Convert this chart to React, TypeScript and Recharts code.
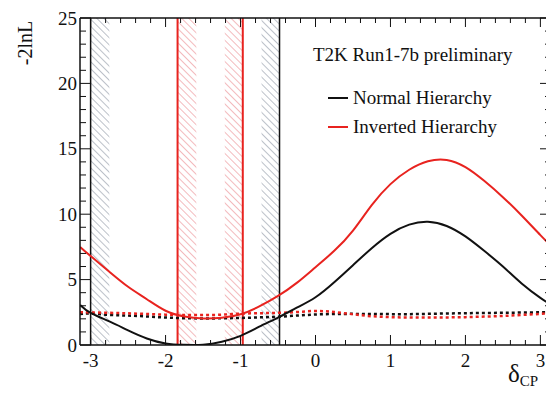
import React from 'react';
import {
  ComposedChart,
  Line,
  XAxis,
  YAxis,
  ReferenceArea,
  ReferenceLine,
} from 'recharts';

// delta_CP sample points
const deltaCP = [
  -3.14, -3, -2.75, -2.5, -2.25, -2, -1.75, -1.5, -1.25, -1, -0.75, -0.5, -0.25,
  0, 0.25, 0.5, 0.75, 1, 1.25, 1.5, 1.75, 2, 2.25, 2.5, 2.75, 3, 3.14,
];

// -2lnL, best fit
const normalHierarchy = [
  3.06, 2.45, 1.8, 1.12, 0.5, 0.12, 0.01, 0.02, 0.25, 0.7, 1.4, 2.1, 2.85,
  3.65, 4.8, 6.1, 7.4, 8.5, 9.2, 9.42, 9.1, 8.3, 7.2, 6.0, 4.7, 3.6, 3.1,
];
const invertedHierarchy = [
  7.5, 6.8, 5.6, 4.45, 3.5, 2.62, 2.18, 2.03, 2.08, 2.35, 2.95, 3.75, 4.75,
  5.95, 7.2, 8.75, 10.7, 12.3, 13.4, 14.05, 14.15, 13.6, 12.55, 11.3, 9.9, 8.4, 7.6,
];

// critical values (dashed)
const normalCritical = [
  2.37, 2.4, 2.3, 2.25, 2.18, 2.1, 2.05, 2.03, 2.04, 2.07, 2.11, 2.16, 2.25,
  2.33, 2.37, 2.38, 2.37, 2.36, 2.36, 2.38, 2.41, 2.43, 2.45, 2.46, 2.48, 2.5, 2.52,
];
const invertedCritical = [
  2.5, 2.49, 2.46, 2.42, 2.37, 2.32, 2.29, 2.29, 2.32, 2.4, 2.43, 2.46, 2.52,
  2.6, 2.52, 2.35, 2.2, 2.13, 2.1, 2.1, 2.11, 2.13, 2.17, 2.22, 2.3, 2.38, 2.45,
];

// 90% intervals
const nhInterval = [-3.0, -0.48];
const ihInterval = [-1.84, -0.97];
const nhHatch = [[-3.0, -2.75], [-0.72, -0.48]];
const ihHatch = [[-1.84, -1.59], [-1.21, -0.97]];

const yMajor = [0, 5, 10, 15, 20, 25];
const xMajor = [-3, -2, -1, 0, 1, 2, 3];

const xTicks: number[] = [];
for (let i = -15; i <= 15; i++) xTicks.push(Math.round(i * 2) / 10);
const yTicks: number[] = [];
for (let i = 0; i <= 25; i++) yTicks.push(i);

const rows = deltaCP.map((d, i) => ({
  d,
  nh: normalHierarchy[i],
  ih: invertedHierarchy[i],
  nhc: normalCritical[i],
  ihc: invertedCritical[i],
}));

const RED = '#e8231f';
const INK = '#111';
const FONT = '"Times New Roman", "Liberation Serif", Tinos, "DejaVu Serif", serif';

const isMajorX = (v: number) => xMajor.some((m) => Math.abs(m - v) < 1e-6);
const isMajorY = (v: number) => yMajor.includes(v);

const BottomTick = ({ x, y, payload }: any) => {
  const major = isMajorX(payload.value);
  return (
    <g>
      <line x1={x} y1={y} x2={x} y2={y - (major ? 10 : 5)} stroke={INK} />
      {major && (
        <text x={x} y={y + 22} textAnchor="middle" fontSize={19} style={{ fontFamily: FONT }} fill={INK}>
          {String(Math.round(payload.value))}
        </text>
      )}
    </g>
  );
};

const TopTick = ({ x, y, payload }: any) => {
  const major = isMajorX(payload.value);
  return <line x1={x} y1={y} x2={x} y2={y + (major ? 9 : 5)} stroke={INK} />;
};

const LeftTick = ({ x, y, payload }: any) => {
  const major = isMajorY(payload.value);
  return (
    <g>
      <line x1={x} y1={y} x2={x + (major ? 11 : 6)} y2={y} stroke={INK} />
      {major && (
        <text x={x - 3} y={y + 6.5} textAnchor="end" fontSize={19} style={{ fontFamily: FONT }} fill={INK}>
          {payload.value}
        </text>
      )}
    </g>
  );
};

const RightTick = ({ x, y, payload }: any) => {
  const major = isMajorY(payload.value);
  return <line x1={x} y1={y} x2={x - (major ? 11 : 6)} y2={y} stroke={INK} />;
};

const textBox: React.CSSProperties = {
  position: 'absolute',
  fontSize: 19,
  lineHeight: '22px',
  color: INK,
  whiteSpace: 'nowrap',
  fontFamily: FONT,
};

export default function App() {
  return (
    <div
      style={{
        position: 'absolute',
        left: 0,
        top: 0,
        width: 546,
        height: 396,
        overflow: 'hidden',
        background: '#fff',
        fontFamily: FONT,
      }}
    >
      <ComposedChart width={580} height={396} data={rows} margin={{ top: 10, right: 19, bottom: 0, left: 0 }}>
        <defs>
          <pattern id="hatchBlack" patternUnits="userSpaceOnUse" width={5} height={5} patternTransform="rotate(-45)">
            <line x1={0} y1={0} x2={0} y2={5} stroke="#7a8494" strokeWidth={1} />
          </pattern>
          <pattern id="hatchRed" patternUnits="userSpaceOnUse" width={5} height={5} patternTransform="rotate(-45)">
            <line x1={0} y1={0} x2={0} y2={5} stroke="#e8767c" strokeWidth={1} />
          </pattern>
        </defs>
        <XAxis
          xAxisId="b"
          dataKey="d"
          type="number"
          domain={[-Math.PI, Math.PI]}
          allowDataOverflow
          ticks={xTicks}
          interval={0}
          tickSize={0}
          tickMargin={0}
          tick={<BottomTick />}
          axisLine={{ stroke: INK, strokeWidth: 1.5 }}
          height={51}
        />
        <XAxis
          xAxisId="t"
          dataKey="d"
          type="number"
          orientation="top"
          domain={[-Math.PI, Math.PI]}
          allowDataOverflow
          ticks={xTicks}
          interval={0}
          tickSize={0}
          tickMargin={0}
          tick={<TopTick />}
          axisLine={{ stroke: INK, strokeWidth: 1.5 }}
          height={8}
        />
        <YAxis
          yAxisId="l"
          type="number"
          domain={[0, 25]}
          allowDataOverflow
          ticks={yTicks}
          interval={0}
          tickSize={0}
          tickMargin={0}
          tick={<LeftTick />}
          axisLine={{ stroke: INK, strokeWidth: 1.5 }}
          width={80}
        />
        <YAxis
          yAxisId="r"
          orientation="right"
          type="number"
          domain={[0, 25]}
          allowDataOverflow
          ticks={yTicks}
          interval={0}
          tickSize={0}
          tickMargin={0}
          tick={<RightTick />}
          axisLine={{ stroke: INK, strokeWidth: 1.5 }}
          width={10}
        />
        {nhHatch.map(([a, b], i) => (
          <ReferenceArea key={`nhh${i}`} xAxisId="b" yAxisId="l" x1={a} x2={b} y1={0} y2={25} fill="url(#hatchBlack)" fillOpacity={1} stroke="none" />
        ))}
        {ihHatch.map(([a, b], i) => (
          <ReferenceArea key={`ihh${i}`} xAxisId="b" yAxisId="l" x1={a} x2={b} y1={0} y2={25} fill="url(#hatchRed)" fillOpacity={1} stroke="none" />
        ))}
        {nhInterval.map((v) => (
          <ReferenceLine key={`nhl${v}`} xAxisId="b" yAxisId="l" x={v} stroke={INK} strokeWidth={1.5} />
        ))}
        {ihInterval.map((v) => (
          <ReferenceLine key={`ihl${v}`} xAxisId="b" yAxisId="l" x={v} stroke={RED} strokeWidth={2} />
        ))}
        <Line xAxisId="b" yAxisId="l" type="natural" dataKey="nhc" stroke={INK} strokeWidth={2.5} strokeDasharray="3 3" dot={false} isAnimationActive={false} />
        <Line xAxisId="b" yAxisId="l" type="natural" dataKey="ihc" stroke={RED} strokeWidth={2.5} strokeDasharray="3 3" dot={false} isAnimationActive={false} />
        <Line xAxisId="b" yAxisId="l" type="natural" dataKey="nh" stroke={INK} strokeWidth={2} dot={false} isAnimationActive={false} />
        <Line xAxisId="b" yAxisId="l" type="natural" dataKey="ih" stroke={RED} strokeWidth={2} dot={false} isAnimationActive={false} />
      </ComposedChart>

      <div
        style={{
          ...textBox,
          left: 25,
          top: 43,
          fontSize: 20,
          transform: 'translate(-50%, -50%) rotate(-90deg)',
        }}
      >
        -2lnL
      </div>

      <div style={{ ...textBox, left: 508, top: 360, fontSize: 25, lineHeight: '28px' }}>
        δ<span style={{ fontSize: 15, position: 'relative', top: 4 }}>CP</span>
      </div>

      <div style={{ ...textBox, left: 313, top: 44 }}>T2K Run1-7b preliminary</div>
      <div style={{ ...textBox, left: 328, top: 87, display: 'flex', alignItems: 'center' }}>
        <span style={{ display: 'inline-block', width: 20, height: 2, background: INK, marginRight: 5 }} />
        Normal Hierarchy
      </div>
      <div style={{ ...textBox, left: 328, top: 116, display: 'flex', alignItems: 'center' }}>
        <span style={{ display: 'inline-block', width: 20, height: 2, background: RED, marginRight: 5 }} />
        Inverted Hierarchy
      </div>
    </div>
  );
}
